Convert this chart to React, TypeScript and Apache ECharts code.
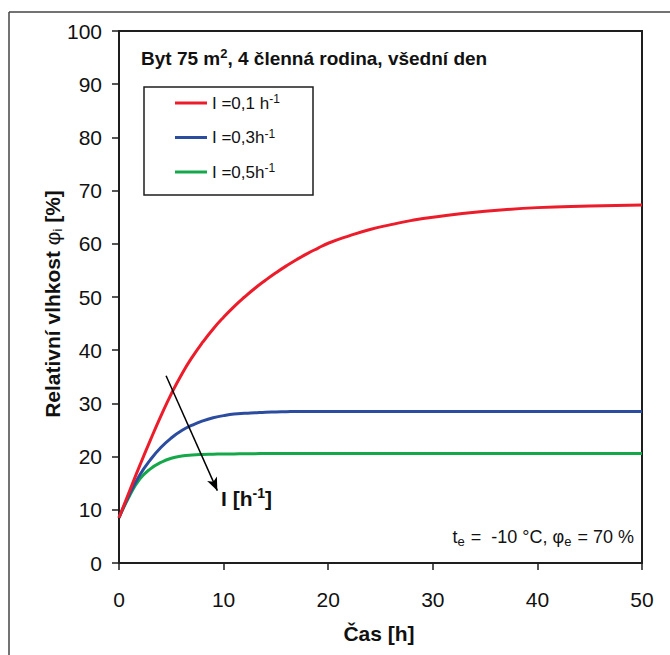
import React, { useEffect, useRef } from "react";
import * as echarts from "echarts";

const FONT = "'Liberation Sans Narrow', 'Arial Narrow', 'Liberation Sans', Arial, sans-serif";

// time [h]
const timeH = [0, 1, 2, 3, 4, 5, 6, 7, 8, 9, 10, 11, 12, 13, 14, 15, 16, 17, 18, 19, 20, 22, 24, 26, 28, 30, 35, 40, 45, 50];
// relative humidity [%] for each air exchange rate
const rh01 = [8.5, 13.5, 18.4, 23.1, 27.6, 31.8, 35.5, 38.7, 41.5, 44.0, 46.2, 48.2, 50.0, 51.65, 53.15, 54.55, 55.85, 57.05, 58.15, 59.15, 60.1, 61.5, 62.7, 63.6, 64.4, 65.0, 66.1, 66.8, 67.1, 67.3];
const rh03 = [8.5, 12.9, 16.6, 19.4, 21.7, 23.5, 24.9, 25.9, 26.7, 27.3, 27.7, 28.0, 28.15, 28.25, 28.35, 28.4, 28.45, 28.5, 28.5, 28.5, 28.5, 28.5, 28.5, 28.5, 28.5, 28.5, 28.5, 28.5, 28.5, 28.5];
const rh05 = [8.5, 12.6, 15.8, 17.7, 18.9, 19.7, 20.1, 20.3, 20.4, 20.45, 20.5, 20.5, 20.55, 20.55, 20.6, 20.6, 20.6, 20.6, 20.6, 20.6, 20.6, 20.6, 20.6, 20.6, 20.6, 20.6, 20.6, 20.6, 20.6, 20.6];

const seriesNames = ["I =0,1 h", "I =0,3h", "I =0,5h"];
const seriesColors = ["#ec1c2a", "#2b4c9f", "#14a84a"];
const seriesData = [rh01, rh03, rh05];

const xTicks = { min: 0, max: 50, interval: 10 };
const yTicks = { min: 0, max: 100, interval: 10 };

// annotation arrow (data coordinates: time, humidity)
const arrowStart = [4.5, 35.2];
const arrowEnd = [9.4, 13.6];

export default function App() {
  const ref = useRef<HTMLDivElement>(null);
  useEffect(() => {
    if (!ref.current) return;
    const chart = echarts.init(ref.current, null, { renderer: "svg" });
    const series: any[] = seriesData.map((vals, i) => ({
      name: seriesNames[i],
      type: "line",
      data: timeH.map((t, k) => [t, vals[k]]),
      showSymbol: false,
      symbol: "none",
      smooth: 0.5,
      lineStyle: { color: seriesColors[i], width: 3 },
      itemStyle: { color: seriesColors[i] },
      z: 3 - i,
    }));
    series[0].markLine = {
      silent: true,
      symbol: ["none", "arrow"],
      symbolSize: [8, 13],
      label: { show: false },
      lineStyle: { color: "#000", width: 1.5, type: "solid" },
      itemStyle: { color: "#000" },
      emphasis: { disabled: true },
      data: [[{ coord: arrowStart }, { coord: arrowEnd }]],
    };
    chart.setOption({
      animation: false,
      backgroundColor: "#fff",
      grid: {
        left: 119,
        top: 31,
        width: 523,
        height: 532,
        show: true,
        borderColor: "#1e1e1e",
        borderWidth: 2,
        containLabel: false,
      },
      xAxis: {
        type: "value",
        ...xTicks,
        splitLine: { show: false },
        axisLine: { show: true, lineStyle: { color: "#1e1e1e", width: 2 } },
        axisTick: { show: true, inside: false, length: 7, lineStyle: { color: "#1e1e1e", width: 1.5 } },
        axisLabel: { fontFamily: FONT, fontSize: 21, color: "#111", margin: 26 },
      },
      yAxis: {
        type: "value",
        ...yTicks,
        splitLine: { show: false },
        axisLine: { show: true, lineStyle: { color: "#1e1e1e", width: 2 } },
        axisTick: { show: true, inside: false, length: 7, lineStyle: { color: "#1e1e1e", width: 1.5 } },
        axisLabel: { fontFamily: FONT, fontSize: 21, color: "#111", margin: 17 },
      },
      legend: {
        orient: "vertical",
        left: 175,
        top: 93,
        icon: "rect",
        itemWidth: 32,
        itemHeight: 3,
        itemGap: 14.5,
        padding: 0,
        selectedMode: false,
        data: seriesNames,
        formatter: (name: string) => name + "{sup|-1}",
        textStyle: {
          fontFamily: FONT,
          fontSize: 17,
          color: "#111",
          lineHeight: 20,
          rich: {
            sup: { fontFamily: FONT, fontSize: 12, lineHeight: 12, verticalAlign: "top", color: "#111" },
          },
        },
      },
      graphic: [
        { type: "line", shape: { x1: 9, y1: 12, x2: 670, y2: 12 }, style: { stroke: "#444", lineWidth: 1.5 } },
        { type: "line", shape: { x1: 9, y1: 12, x2: 9, y2: 655 }, style: { stroke: "#444", lineWidth: 1.5 } },
        {
          type: "rect",
          shape: { x: 144, y: 87, width: 169, height: 108 },
          style: { fill: "none", stroke: "#1e1e1e", lineWidth: 1.5 },
        },
        {
          type: "text",
          x: 141,
          y: 58,
          style: {
            text: "Byt 75 m{sup|2}, 4 členná rodina, všední den",
            fontFamily: FONT,
            fontSize: 19,
            fontWeight: "bold",
            fill: "#111",
            verticalAlign: "middle",
            lineHeight: 22,
            rich: {
              sup: { fontFamily: FONT, fontSize: 13, fontWeight: "bold", lineHeight: 13, verticalAlign: "top", fill: "#111" },
            },
          },
        },
        {
          type: "text",
          x: 221,
          y: 498,
          style: {
            text: "I [h{sup|-1}]",
            fontFamily: FONT,
            fontSize: 21,
            fontWeight: "bold",
            fill: "#111",
            verticalAlign: "middle",
            lineHeight: 24,
            rich: {
              sup: { fontFamily: FONT, fontSize: 14, fontWeight: "bold", lineHeight: 14, verticalAlign: "top", fill: "#111" },
            },
          },
        },
        {
          type: "text",
          x: 634,
          y: 537,
          style: {
            text: "t{sub|e} =  -10 °C, φ{sub|e} = 70 %",
            fontFamily: FONT,
            fontSize: 18,
            fill: "#111",
            align: "right",
            verticalAlign: "middle",
            lineHeight: 22,
            rich: {
              sub: { fontFamily: FONT, fontSize: 13, lineHeight: 13, verticalAlign: "bottom", fill: "#111", padding: [0, 1, 0, 0] },
            },
          },
        },
        {
          type: "text",
          x: 52,
          y: 304,
          rotation: Math.PI / 2,
          style: {
            text: "Relativní vlhkost {phi|φ}{sub|i} [%]",
            fontFamily: FONT,
            fontSize: 21,
            fontWeight: "bold",
            fill: "#111",
            align: "center",
            verticalAlign: "middle",
            lineHeight: 24,
            rich: {
              phi: { fontFamily: FONT, fontSize: 21, fontWeight: "normal", lineHeight: 24, fill: "#111" },
              sub: { fontFamily: FONT, fontSize: 13, fontWeight: "normal", lineHeight: 13, verticalAlign: "bottom", fill: "#111" },
            },
          },
        },
        {
          type: "text",
          x: 379,
          y: 633,
          style: {
            text: "Čas [h]",
            fontFamily: FONT,
            fontSize: 21,
            fontWeight: "bold",
            fill: "#111",
            align: "center",
            verticalAlign: "middle",
          },
        },
      ],
      series,
    });
    return () => chart.dispose();
  }, []);
  return (
    <div
      ref={ref}
      style={{ position: "fixed", left: 0, top: 0, width: 670, height: 655, background: "#fff" }}
    />
  );
}
